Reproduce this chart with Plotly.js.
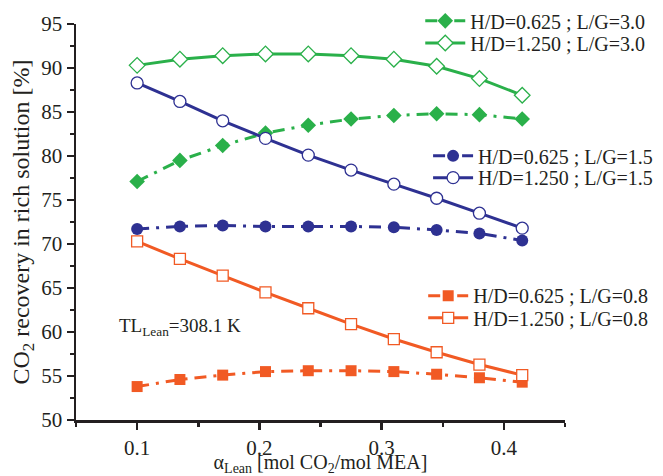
<!DOCTYPE html>
<html>
<head>
<meta charset="utf-8">
<script src="https://cdn.plot.ly/plotly-3.0.1.min.js"></script>
<style>html,body{margin:0;padding:0;background:#fff;}#chart{width:663px;height:476px;}</style>
</head>
<body>
<div id="chart"></div>
<script>
// alpha_Lean [mol CO2/mol MEA]
const alphaLean = [0.1, 0.135, 0.17, 0.205, 0.24, 0.275, 0.31, 0.345, 0.38, 0.415];
// CO2 recovery [%]
const hd0625_lg30 = [77.1, 79.5, 81.2, 82.6, 83.5, 84.2, 84.6, 84.8, 84.7, 84.2];
const hd1250_lg30 = [90.3, 91.0, 91.4, 91.6, 91.6, 91.4, 91.0, 90.2, 88.8, 86.9];
const hd0625_lg15 = [71.7, 72.0, 72.1, 72.0, 72.0, 72.0, 71.9, 71.6, 71.2, 70.4];
const hd1250_lg15 = [88.3, 86.2, 84.0, 82.0, 80.1, 78.4, 76.8, 75.2, 73.5, 71.8];
const hd0625_lg08 = [53.8, 54.6, 55.1, 55.5, 55.6, 55.6, 55.5, 55.2, 54.8, 54.3];
const hd1250_lg08 = [70.3, 68.3, 66.4, 64.5, 62.7, 60.9, 59.2, 57.7, 56.3, 55.1];
const seriesNames = [
  "H/D=0.625 ; L/G=3.0", "H/D=1.250 ; L/G=3.0",
  "H/D=0.625 ; L/G=1.5", "H/D=1.250 ; L/G=1.5",
  "H/D=0.625 ; L/G=0.8", "H/D=1.250 ; L/G=0.8"
];

const GREEN = '#2ab04a', BLUE = '#2e3192', ORANGE = '#f15a24', INK = '#231f20';
const DASHDOT = '12px,7px,3px,7px';

function filled(y, name, color, symbol, size, legend) {
  return {x: alphaLean, y: y, name: name, legend: legend, type: 'scatter', mode: 'lines+markers',
    line: {color: color, width: 3, dash: DASHDOT},
    marker: {symbol: symbol, size: size, color: color, line: {width: 0}}};
}
function open(y, name, color, symbol, size, legend) {
  return {x: alphaLean, y: y, name: name, legend: legend, type: 'scatter', mode: 'lines+markers',
    line: {color: color, width: 3},
    marker: {symbol: symbol, size: size, color: '#ffffff', line: {color: color, width: 1.3}}};
}

const traces = [
  filled(hd0625_lg30, seriesNames[0], GREEN, 'diamond', 12, 'legend'),
  open(hd1250_lg30, seriesNames[1], GREEN, 'diamond', 12, 'legend2'),
  filled(hd0625_lg15, seriesNames[2], BLUE, 'circle', 12, 'legend3'),
  open(hd1250_lg15, seriesNames[3], BLUE, 'circle', 12, 'legend4'),
  filled(hd0625_lg08, seriesNames[4], ORANGE, 'square', 11, 'legend5'),
  open(hd1250_lg08, seriesNames[5], ORANGE, 'square', 11, 'legend6')
];

const FONT = 'Liberation Serif, Times New Roman, serif';
function leg(x, y) {
  return {x: x, y: y, xanchor: 'left', yanchor: 'middle', bgcolor: 'rgba(0,0,0,0)',
    borderwidth: 0, itemwidth: 40, font: {family: FONT, size: 20, color: INK}};
}

const layout = {
  width: 663, height: 476,
  margin: {l: 76, r: 98, t: 24, b: 56, pad: 0, autoexpand: false},
  paper_bgcolor: '#ffffff', plot_bgcolor: '#ffffff',
  font: {family: FONT, color: INK, size: 20},
  showlegend: true,
  xaxis: {
    range: [0.05, 0.45], showgrid: false, zeroline: false,
    showline: true, linecolor: INK, linewidth: 2.5,
    ticks: 'outside', ticklen: 7, tickwidth: 2.5, tickcolor: INK,
    tick0: 0.1, dtick: 0.1, tickformat: '.1f',
    tickfont: {family: FONT, size: 21, color: INK},
    minor: {dtick: 0.05, tick0: 0.05, ticks: 'outside', ticklen: 4, tickwidth: 2.5, tickcolor: INK, showgrid: false},
    title: {text: 'α<sub>Lean</sub> [mol CO<sub>2</sub>/mol MEA]', font: {family: FONT, size: 20, color: INK}, standoff: 7}
  },
  yaxis: {
    range: [50, 95], showgrid: false, zeroline: false,
    showline: true, linecolor: INK, linewidth: 2.5,
    ticks: 'outside', ticklen: 7, tickwidth: 2.5, tickcolor: INK,
    tick0: 50, dtick: 5,
    tickfont: {family: FONT, size: 21, color: INK},
    minor: {dtick: 2.5, ticks: 'outside', ticklen: 4, tickwidth: 2.5, tickcolor: INK, showgrid: false},
    title: {text: 'CO<sub>2</sub> recovery in rich solution [%]', font: {family: FONT, size: 24, color: INK}, standoff: 5}
  },
  legend: leg(0.704, 1.008),
  legend2: leg(0.704, 0.952),
  legend3: leg(0.720, 0.667),
  legend4: leg(0.720, 0.612),
  legend5: leg(0.710, 0.314),
  legend6: leg(0.710, 0.258),
  annotations: [{
    xref: 'paper', yref: 'paper', x: 0.084, y: 0.235, xanchor: 'left', yanchor: 'middle',
    text: 'TL<sub>Lean</sub>=308.1 K', showarrow: false,
    font: {family: FONT, size: 19, color: INK}
  }]
};

Plotly.newPlot('chart', traces, layout, {displayModeBar: false, staticPlot: true});
</script>
</body>
</html>
